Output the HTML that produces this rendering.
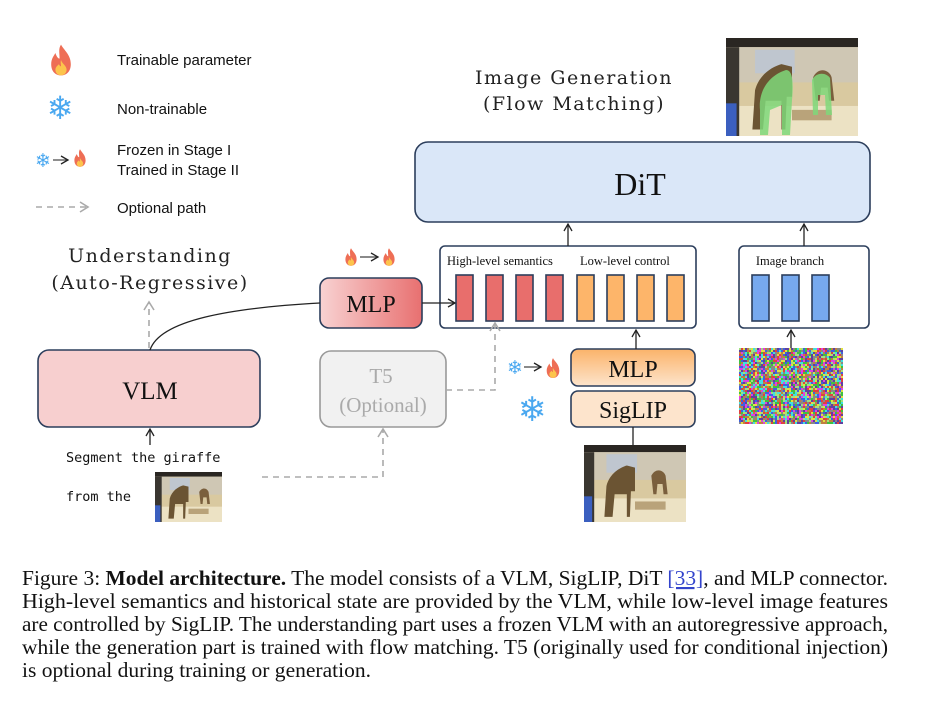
<!DOCTYPE html>
<html><head><meta charset="utf-8"><style>
html,body{margin:0;padding:0;background:#fff;}
svg{display:block;}
</style></head><body>
<svg width="931" height="705" viewBox="0 0 931 705" xmlns="http://www.w3.org/2000/svg">
<defs>
  <symbol id="flame" viewBox="0 0 20 24">
    <path d="M10 1 C12 5 17 8 17 15 C17 20 14 23 10 23 C6 23 3 20 3 15 C3 11 5 9 6 7 C7 10 8 11 9 11 C9 7 8 4 10 1Z" fill="#ee6e55"/>
    <path d="M10 12 C11 15 14 16 14 19 C14 21.5 12 23 10 23 C8 23 6 21.5 6 19 C6 17 7.5 16 8.5 15 C9 16 9.5 16.5 10 16.5 C10 15 9.5 13.5 10 12Z" fill="#fcc44c"/>
  </symbol>
  <symbol id="photo" viewBox="0 0 100 75" preserveAspectRatio="none">
    <rect width="100" height="75" fill="#d9c9a0"/>
    <rect width="100" height="7" fill="#2a2622"/>
    <rect y="7" width="100" height="27" fill="#cfc7b4"/>
    <rect x="22" y="9" width="30" height="18" fill="#bfc6cf"/>
    <rect y="52" width="100" height="23" fill="#ece2c4"/>
    <rect x="0" y="7" width="10" height="68" fill="#3a3630"/>
    <rect x="0" y="50" width="8" height="25" fill="#3b5fbf"/>
    <path d="M20 70 L22 40 C25 28 35 22 42 20 L50 22 L50 45 L46 45 L45 70 L42 70 L42 48 L30 48 L28 70Z" fill="#6b5433"/>
    <path d="M66 30 C70 22 78 24 80 30 L82 48 L78 48 L77 38 L72 38 L71 48 L68 48Z" fill="#7a5f3d"/>
    <rect x="50" y="55" width="30" height="8" fill="#b9a37a"/>
  </symbol>
  <linearGradient id="gmlp" x1="0" x2="1"><stop offset="0" stop-color="#f8d2d2"/><stop offset="1" stop-color="#e87070"/></linearGradient>
  <linearGradient id="gmlp2" x1="0" y1="0" x2="0" y2="1"><stop offset="0" stop-color="#fbb36a"/><stop offset="1" stop-color="#fde4cc"/></linearGradient>
  <marker id="ah" markerWidth="10" markerHeight="10" refX="8" refY="5" orient="auto" markerUnits="userSpaceOnUse"><path d="M1 1 L8 5 L1 9" fill="none" stroke="#222" stroke-width="1.3"/></marker>
  <marker id="ahg" markerWidth="12" markerHeight="12" refX="9" refY="6" orient="auto" markerUnits="userSpaceOnUse"><path d="M1 1 L9 6 L1 11" fill="none" stroke="#aaa" stroke-width="1.6"/></marker>
</defs>

<g font-family="DejaVu Sans, sans-serif" fill="#4aa8f0" font-weight="bold">
<use href="#flame" x="47" y="43" width="28" height="34"/>
<text x="60" y="119" font-size="32" text-anchor="middle">❄</text>
<text x="43" y="167" font-size="19" text-anchor="middle">❄</text>
<use href="#flame" x="72" y="148" width="16" height="20"/>
<use href="#flame" x="343" y="247" width="16" height="20"/>
<use href="#flame" x="381" y="247" width="16" height="20"/>
<text x="485" y="196" font-size="32" text-anchor="middle">❄</text>
<use href="#flame" x="534" y="167" width="30" height="36"/>
<text x="80" y="402" font-size="34" text-anchor="middle">❄</text>
<text x="346" y="386" font-size="32" text-anchor="middle">❄</text>
<text x="515" y="374" font-size="19" text-anchor="middle">❄</text>
<use href="#flame" x="544" y="357" width="18" height="22"/>
<text x="532" y="421" font-size="34" text-anchor="middle">❄</text>
</g>
<g stroke="#444" stroke-width="1.2" fill="none">
<line x1="53" y1="160" x2="68" y2="160" marker-end="url(#ah)"/>
<line x1="360" y1="257" x2="378" y2="257" marker-end="url(#ah)"/>
<line x1="505" y1="183" x2="530" y2="183" stroke-width="2" marker-end="url(#ah)"/>
<line x1="524" y1="367" x2="541" y2="367" marker-end="url(#ah)"/>
</g>
<line x1="36" y1="207" x2="88" y2="207" stroke="#aaa" stroke-width="1.6" stroke-dasharray="6,5" marker-end="url(#ahg)"/>

<g font-family="Liberation Sans, sans-serif" font-size="15" fill="#111">
<text x="117" y="65">Trainable parameter</text>
<text x="117" y="114">Non-trainable</text>
<text x="117" y="155">Frozen in Stage I</text>
<text x="117" y="175">Trained in Stage II</text>
<text x="117" y="213">Optional path</text>
</g>

<g font-family="DejaVu Serif, serif" font-size="19" fill="#222" text-anchor="middle" letter-spacing="1.5">
<text x="150" y="262">Understanding</text>
<text x="150" y="289">(Auto-Regressive)</text>
<text x="574" y="84">Image Generation</text>
<text x="574" y="110">(Flow Matching)</text>
</g>

<use href="#photo" x="726" y="38" width="132" height="98"/>
<path d="M760 110 C758 90 770 75 786 70 C792 70 794 80 792 100 L790 135 L782 135 L782 105 L770 110 L768 135 L760 135Z" fill="#7fd87a" opacity="0.85"/>
<path d="M812 80 C816 72 826 72 830 78 L832 115 L826 115 L825 95 L818 95 L818 115 L813 115Z" fill="#7fd87a" opacity="0.85"/>
<use href="#photo" x="155" y="472" width="67" height="50"/>
<use href="#photo" x="584" y="445" width="102" height="77"/>
<g id="noise"></g>

<rect x="415" y="142" width="455" height="80" rx="13" fill="#dae7f8" stroke="#2c3e5c" stroke-width="1.6"/>
<text x="640" y="195" font-family="Liberation Serif, serif" font-size="32" text-anchor="middle" fill="#111">DiT</text>

<rect x="440" y="246" width="256" height="82" rx="5" fill="#fff" stroke="#2c3e5c" stroke-width="1.6"/>
<rect x="739" y="246" width="130" height="82" rx="5" fill="#fff" stroke="#2c3e5c" stroke-width="1.6"/>
<g font-family="Liberation Serif, serif" font-size="12.5" fill="#111">
<text x="447" y="265">High-level semantics</text>
<text x="580" y="265">Low-level control</text>
<text x="790" y="265" text-anchor="middle">Image branch</text>
</g>
<g stroke="#2c3e5c" stroke-width="1.6">
<rect x="456" y="275" width="17" height="46" fill="#e86e6c"/>
<rect x="486" y="275" width="17" height="46" fill="#e86e6c"/>
<rect x="516" y="275" width="17" height="46" fill="#e86e6c"/>
<rect x="546" y="275" width="17" height="46" fill="#e86e6c"/>
<rect x="577" y="275" width="17" height="46" fill="#fdb56a"/>
<rect x="607" y="275" width="17" height="46" fill="#fdb56a"/>
<rect x="637" y="275" width="17" height="46" fill="#fdb56a"/>
<rect x="667" y="275" width="17" height="46" fill="#fdb56a"/>
</g>
<g stroke="#2c3e5c" stroke-width="1.6" fill="#77a9ee">
<rect x="752" y="275" width="17" height="46"/>
<rect x="782" y="275" width="17" height="46"/>
<rect x="812" y="275" width="17" height="46"/>
</g>

<rect x="320" y="278" width="102" height="50" rx="9" fill="url(#gmlp)" stroke="#2c3e5c" stroke-width="1.6"/>
<text x="371" y="312" font-family="Liberation Serif, serif" font-size="24" text-anchor="middle" fill="#111">MLP</text>

<rect x="38" y="350" width="222" height="77" rx="11" fill="#f7cfcf" stroke="#2c3e5c" stroke-width="1.6"/>
<text x="150" y="399" font-family="Liberation Serif, serif" font-size="25" text-anchor="middle" fill="#111">VLM</text>

<rect x="320" y="351" width="126" height="76" rx="11" fill="#f1f1f1" stroke="#999" stroke-width="1.6"/>
<g font-family="Liberation Serif, serif" font-size="21" fill="#aaa" text-anchor="middle">
<text x="381" y="383">T5</text>
<text x="383" y="412">(Optional)</text>
</g>

<rect x="571" y="349" width="124" height="37" rx="7" fill="url(#gmlp2)" stroke="#2c3e5c" stroke-width="1.6"/>
<text x="633" y="377" font-family="Liberation Serif, serif" font-size="24" text-anchor="middle" fill="#111">MLP</text>
<rect x="571" y="391" width="124" height="36" rx="7" fill="#fde4cc" stroke="#2c3e5c" stroke-width="1.6"/>
<text x="633" y="418" font-family="Liberation Serif, serif" font-size="24" text-anchor="middle" fill="#111">SigLIP</text>

<g font-family="DejaVu Sans Mono, Liberation Mono, monospace" font-size="13.5" fill="#111">
<text x="66" y="462">Segment the giraffe</text>
<text x="66" y="501">from the</text>
</g>

<g stroke="#222" stroke-width="1.3" fill="none">
<path d="M150 350 C160 320 230 308 320 303"/>
<line x1="422" y1="303" x2="455" y2="303" marker-end="url(#ah)"/>
<line x1="150" y1="445" x2="150" y2="429" marker-end="url(#ah)"/>
<line x1="568" y1="246" x2="568" y2="224" marker-end="url(#ah)"/>
<line x1="804" y1="246" x2="804" y2="224" marker-end="url(#ah)"/>
<line x1="636" y1="349" x2="636" y2="330" marker-end="url(#ah)"/>
<line x1="633" y1="445" x2="633" y2="427"/>
<line x1="791" y1="348" x2="791" y2="330" marker-end="url(#ah)"/>
</g>
<g stroke="#aaa" stroke-width="1.6" fill="none" stroke-dasharray="6,5">
<line x1="149" y1="348" x2="149" y2="302" marker-end="url(#ahg)"/>
<path d="M262 477 L383 477 L383 429" marker-end="url(#ahg)"/>
<path d="M446 390 L495 390 L495 323" marker-end="url(#ahg)"/>
</g>

<g font-family="Liberation Serif, serif" font-size="21.5" fill="#111">
<text x="22" y="585" textLength="866" lengthAdjust="spacingAndGlyphs">Figure 3: <tspan font-weight="bold">Model architecture.</tspan> The model consists of a VLM, SigLIP, DiT <tspan fill="#3344cc" text-decoration="underline">[33]</tspan>, and MLP connector.</text>
<text x="22" y="608" textLength="866" lengthAdjust="spacingAndGlyphs">High-level semantics and historical state are provided by the VLM, while low-level image features</text>
<text x="22" y="631" textLength="866" lengthAdjust="spacingAndGlyphs">are controlled by SigLIP. The understanding part uses a frozen VLM with an autoregressive approach,</text>
<text x="22" y="654" textLength="866" lengthAdjust="spacingAndGlyphs">while the generation part is trained with flow matching. T5 (originally used for conditional injection)</text>
<text x="22" y="677" textLength="349" lengthAdjust="spacingAndGlyphs">is optional during training or generation.</text>
</g>
</svg>
<script>
(function(){
 var g=document.getElementById('noise'),s='';
 var cols=['#e04040','#40c040','#4060e0','#e0e040','#e040e0','#40e0e0','#888','#c08040','#6040a0','#a0e080'];
 for(var y=348;y<424;y+=2){for(var x=739;x<843;x+=2){
  s+='<rect x="'+x+'" y="'+y+'" width="2" height="2" fill="'+cols[(Math.random()*cols.length)|0]+'"/>';}}
 g.innerHTML=s;
})();
</script>
</body></html>
